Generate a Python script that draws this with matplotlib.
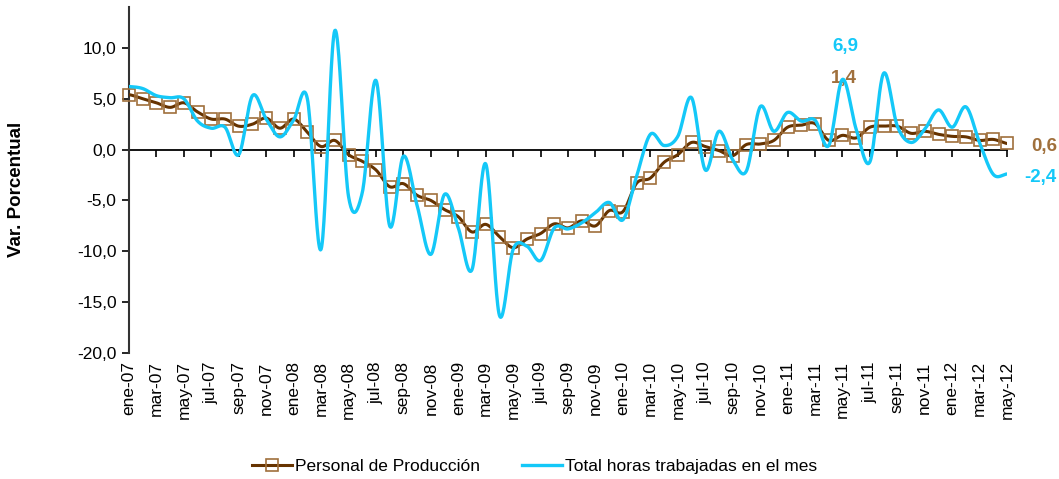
import matplotlib.pyplot as plt
import numpy as np

plt.rcParams['font.family'] = ['Liberation Sans', 'DejaVu Sans']

# etiquetas de meses ene-07 .. may-12
meses = ['ene', 'feb', 'mar', 'abr', 'may', 'jun', 'jul', 'ago', 'sep', 'oct', 'nov', 'dic']
periodos = [f'{m}-{a:02d}' for a in range(7, 13) for m in meses][:65]

# variación porcentual anual
personal = [5.4, 5.0, 4.6, 4.15, 4.6, 3.7, 3.0, 3.0, 2.3, 2.5,
            3.1, 2.1, 3.0, 1.7, 0.3, 0.9, -0.5, -1.15, -2.0, -3.65,
            -3.35, -4.5, -5.0, -5.9, -6.6, -8.1, -7.35, -8.55, -9.65, -8.8,
            -8.25, -7.3, -7.7, -7.0, -7.5, -6.0, -6.1, -3.3, -2.8, -1.25,
            -0.5, 0.7, 0.3, -0.1, -0.6, 0.5, 0.55, 0.9, 2.2, 2.4,
            2.55, 0.9, 1.4, 1.15, 2.2, 2.3, 2.3, 1.6, 1.8, 1.5,
            1.3, 1.25, 0.9, 1.0, 0.6]
horas = [6.2, 6.0, 5.3, 5.1, 5.0, 2.8, 2.1, 2.2, -0.5, 5.3,
         3.0, 1.25, 2.9, 5.0, -9.8, 11.7, -4.6, -4.25, 6.8, -7.5,
         -0.65, -5.5, -10.3, -4.4, -7.7, -11.8, -1.4, -16.3, -9.8, -9.5,
         -10.9, -7.7, -7.8, -7.2, -6.2, -5.2, -6.9, -2.6, 1.5, 0.4,
         1.3, 5.1, -2.0, 1.8, -1.0, -2.1, 4.2, 1.8, 3.65, 2.8,
         2.9, 0.4, 6.9, 2.0, -1.2, 7.5, 2.3, 0.7, 2.0, 3.9,
         2.2, 4.2, 0.65, -2.45, -2.4]

marron = '#663300'
marron_claro = '#A0703C'
cian = '#14C8F8'


def suavizar(y, n=24):
    # curva suavizada tipo Excel (Catmull-Rom) entre los puntos mensuales
    y = np.asarray(y, float)
    p = np.concatenate([[y[0]], y, [y[-1]]])
    t = np.linspace(0, 1, n, endpoint=False)
    xs, ys = [], []
    for i in range(len(y) - 1):
        p0, p1, p2, p3 = p[i:i + 4]
        ys.append(0.5 * (2 * p1 + (p2 - p0) * t
                         + (2 * p0 - 5 * p1 + 4 * p2 - p3) * t ** 2
                         + (3 * p1 - p0 - 3 * p2 + p3) * t ** 3))
        xs.append(i + t)
    xs.append([len(y) - 1])
    ys.append([y[-1]])
    return np.concatenate(xs), np.concatenate(ys)


x = np.arange(len(periodos))

fig = plt.figure(figsize=(10.59, 4.79), dpi=100)
ax = fig.add_axes([0.1218, 0.263, 0.8292, 0.722])

xs, ys = suavizar(personal)
ax.plot(xs, ys, color=marron, lw=2.2, zorder=3)
ax.plot(x, personal, ls='none', marker='s', ms=9, mfc='none', mec=marron_claro,
        mew=1.2, zorder=4, clip_on=False)
xs, ys = suavizar(horas)
ax.plot(xs, ys, color=cian, lw=2.4, zorder=5)

ax.set_xlim(0, 64)
ax.set_ylim(-20, 14)
ax.set_yticks(np.arange(-20, 11, 5))
ax.set_yticklabels([f'{v:.1f}'.replace('.', ',') for v in np.arange(-20, 11, 5)], fontsize=12.5)
ax.tick_params(axis='y', length=5, width=1.2, pad=4)

ax.set_xticks(x[::2])
ax.set_xticklabels(periodos[::2], rotation=90, fontsize=12.5)
ax.tick_params(axis='x', length=0, pad=6)

for s in ['top', 'right', 'bottom']:
    ax.spines[s].set_visible(False)
ax.spines['left'].set_linewidth(1.5)
ax.spines['left'].set_color('#333333')

# eje horizontal en el cero
eje0 = ax.secondary_xaxis(0, transform=ax.transData)
eje0.set_xticks(x[::2])
eje0.tick_params(axis='x', labelbottom=False, length=5, width=1.2, direction='out')
eje0.spines['bottom'].set_linewidth(1.3)

# etiquetas de datos
ax.annotate('6,9', (52, horas[52]), xytext=(3, 33), textcoords='offset pixels',
            ha='center', va='center', color=cian, fontsize=13.5, fontweight='bold')
ax.annotate('1,4', (52, personal[52]), xytext=(1, 57), textcoords='offset pixels',
            ha='center', va='center', color=marron_claro, fontsize=13.5, fontweight='bold')
ax.annotate('0,6', (64, personal[64]), xytext=(37, -3), textcoords='offset pixels',
            ha='center', va='center', color=marron_claro, fontsize=13.5, fontweight='bold',
            annotation_clip=False)
ax.annotate('-2,4', (64, horas[64]), xytext=(33, -3), textcoords='offset pixels',
            ha='center', va='center', color=cian, fontsize=13.5, fontweight='bold',
            annotation_clip=False)

fig.text(0.016, 0.605, 'Var. Porcentual', rotation=90, ha='center', va='center',
         fontsize=13.5, fontweight='bold')

h1 = plt.Line2D([], [], color=marron, lw=2.2, marker='s', ms=9, mfc='none',
                mec=marron_claro, mew=1.2)
h2 = plt.Line2D([], [], color=cian, lw=2.4)
fig.legend([h1, h2], ['Personal de Producción', 'Total horas trabajadas en el mes'],
           loc='center', bbox_to_anchor=(0.505, 0.027), ncol=2, frameon=False,
           fontsize=12.5, handlelength=2.3, handletextpad=0.2, columnspacing=2.4)

fig.savefig('out.png', dpi=100)
